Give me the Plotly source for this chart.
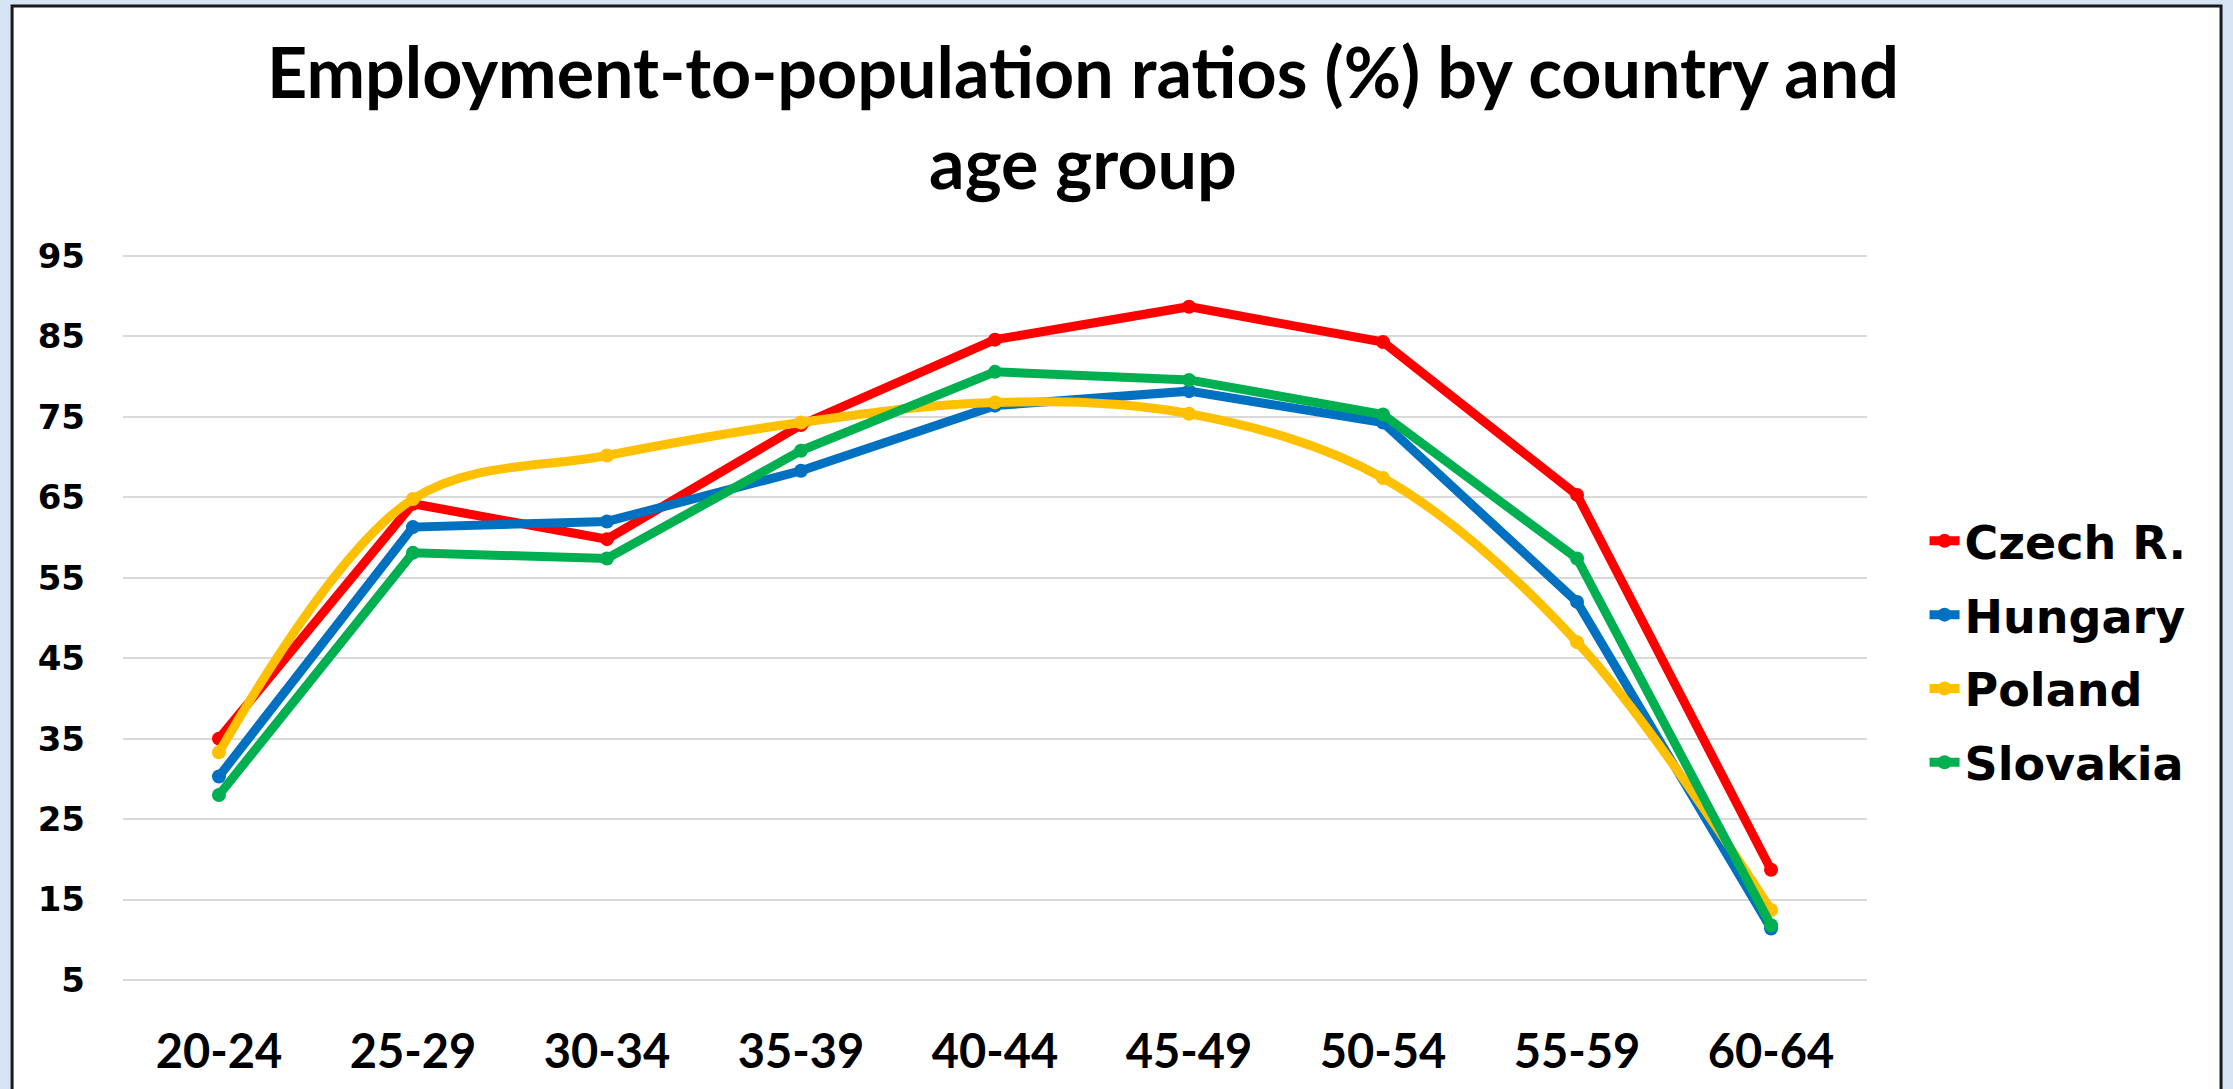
import plotly.graph_objects as go

# age groups on the x axis
age_groups = ["20-24", "25-29", "30-34", "35-39", "40-44", "45-49", "50-54", "55-59", "60-64"]

# employment-to-population ratios (%)
czech = [35.0, 64.2, 59.8, 74.0, 84.6, 88.7, 84.3, 65.3, 18.7]
hungary = [30.3, 61.3, 62.0, 68.3, 76.4, 78.2, 74.3, 52.0, 11.4]
poland = [33.3, 64.8, 70.2, 74.3, 76.8, 75.4, 67.4, 47.0, 13.7]
slovakia = [28.0, 58.1, 57.4, 70.8, 80.6, 79.6, 75.3, 57.4, 11.8]

y_ticks = [5, 15, 25, 35, 45, 55, 65, 75, 85, 95]

series = [
    ("Czech R.", czech, "#FF0000", "linear"),
    ("Hungary", hungary, "#0070C0", "linear"),
    ("Poland", poland, "#FFC000", "spline"),
    ("Slovakia", slovakia, "#00B050", "linear"),
]

fig = go.Figure()
for name, vals, color, shape in series:
    fig.add_trace(go.Scatter(
        x=age_groups, y=vals, name=name, legendgroup=name,
        mode="lines+markers",
        line=dict(color=color, width=9, shape=shape, smoothing=1.0),
        marker=dict(color=color, size=14),
    ))

# light blue page with a white, black-framed chart area
fig.add_shape(type="rect", xref="paper", yref="paper",
              x0=-0.0636, x1=1.2030, y0=-0.2, y1=1.3407,
              fillcolor="white", line=dict(color="#1a1a1a", width=3), layer="below")

fig.update_layout(
    width=2233, height=1089,
    paper_bgcolor="#D6E4F4", plot_bgcolor="rgba(0,0,0,0)",
    margin=dict(l=123, r=366, t=254, b=107),
    title=dict(
        text="Employment-to-population ratios (%) by country and<br>age group",
        font=dict(family="Lato", size=70, color="black", weight="bold"),
        x=0.485, xanchor="center", y=0.91, yanchor="middle",
    ),
    xaxis=dict(
        showgrid=False, showline=False, zeroline=False,
        tickfont=dict(family="Lato", size=47, color="black", weight="bold"),
        ticklabelstandoff=38,
    ),
    yaxis=dict(
        range=[4.75, 95.25], tickvals=y_ticks, showline=False, zeroline=False,
        gridcolor="#D9D9D9", gridwidth=2,
        tickfont=dict(family="DejaVu Sans", size=34, color="black", weight="bold"),
        ticklabelstandoff=37,
    ),
    legend=dict(
        x=1.033, xanchor="left", y=0.656, yanchor="top",
        font=dict(family="DejaVu Sans", size=46, color="black", weight="bold"),
        tracegroupgap=11, bgcolor="rgba(0,0,0,0)",
    ),
)

# drop the default body margin so the figure sits at the page corner
fig.write_html("out.html", config={"displayModeBar": False},
               post_script="document.body.style.margin = '0';")
